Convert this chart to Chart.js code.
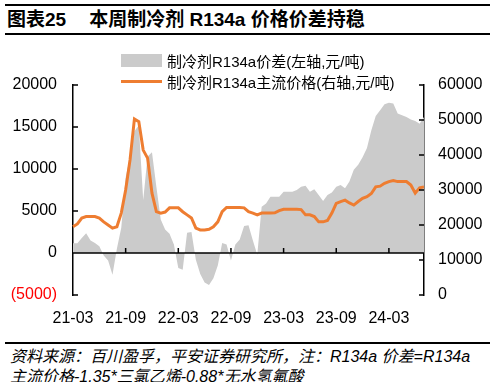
<!DOCTYPE html>
<html>
<head>
<meta charset="utf-8">
<script src="https://cdn.jsdelivr.net/npm/chart.js@4.4.1/dist/chart.umd.min.js"></script>
<style>
    body { margin: 0; background: #fff; }
    #wrap { position: relative; width: 495px; height: 382px; overflow: hidden; font-family: "Liberation Sans", Arial, "Noto Sans CJK SC", sans-serif; color: #000; }
    .rule { position: absolute; left: 5px; width: 485px; background: #000; }
    #title { position: absolute; left: 7px; top: 8px; font-size: 19px; line-height: 24px; font-weight: bold; white-space: nowrap; }
    #title .num { margin-right: 23px; }
    #legend { position: absolute; left: 121px; top: 50px; font-size: 15px; white-space: nowrap; }
    .item { display: flex; align-items: center; height: 21px; }
    .swatch { width: 41px; margin-right: 5px; }
    #note { position: absolute; left: 10px; top: 347px; font-size: 16px; font-style: italic; line-height: 20px; white-space: nowrap; }
    #chartBox { position: absolute; left: 0; top: 40px; width: 495px; height: 300px; }
</style>
</head>
<body>
<div id="wrap">
    <div class="rule" style="top:4px;height:1.5px"></div>
    <div id="title"><span class="num">图表25</span>本周制冷剂 R134a 价格价差持稳</div>
    <div class="rule" style="top:33px;height:2px"></div>
    <div id="chartBox"><canvas id="chartR134a"></canvas></div>
    <div id="legend"></div>
    <div class="rule" style="top:342px;height:1.5px"></div>
    <div id="note">资料来源：百川盈孚，平安证券研究所，注：R134a 价差=R134a<br>主流价格-1.35*三氯乙烯-0.88*无水氢氟酸</div>
</div>
<script>
// 半月一个点, 21-03 到 24-07
const periods = [];
for (let k = 0; k <= 80; k++) {
    let m = 2 + Math.floor(k / 2);        // 0 = 2021-01
    let yy = 21 + Math.floor(m / 12);
    let mm = (m % 12) + 1;
    periods.push(yy + '-' + String(mm).padStart(2, '0') + (k % 2 ? '下' : '上'));
}
const tickLabels = ['21-03', '21-09', '22-03', '22-09', '23-03', '23-09', '24-03'];

// 价差 (左轴, 元/吨)
const spread = [
    1150, 1150, 1800, 2350, 1500, 1200, 800, -300, -900, -2600,
    500, 3000, 9000, 11500, 14500, 15200, 6300, 11500, 12000, 7900,
    4000, 2800, 2300, 1000, -1800, -2000, 2400, 2500, -800, -2500,
    -3500, -3800, -3000, -1500, 1200, 1000, -900, 1000, 1600, 3200,
    3300, 1500, -200, 5500, 5900, 6700, 6700, 6700, 7300, 7300,
    7300, 7500, 7900, 8000, 7300, 7600, 6900, 6200, 6900, 7200,
    7900, 8100, 7700, 8500, 9900, 10500, 11400, 12500, 14600, 16300,
    17000, 17700, 17900, 17800, 16600, 16400, 16200, 15900, 15700, 15400,
    16200
];

// 主流价格 (右轴, 元/吨)
const price = [
    19500, 20300, 22000, 22400, 22400, 22400, 22000, 20900, 20000, 19100,
    19500, 23400, 30000, 38600, 50300, 49500, 41400, 39100, 29100, 23800,
    23400, 23700, 24900, 24900, 24900, 23800, 22900, 22000, 19100, 18600,
    18600, 18800, 19500, 20900, 23800, 25000, 25000, 25000, 25000, 24900,
    23800, 23400, 22900, 23400, 23400, 23400, 23500, 24100, 24500, 24500,
    24500, 24500, 24400, 22900, 22900, 22400, 20900, 20900, 21300, 23400,
    26200, 26700, 27100, 26300, 25700, 26700, 27600, 28100, 29000, 30900,
    31100, 31900, 32400, 32700, 32400, 32400, 32400, 31400, 29100, 30600,
    30900
];

const seriesNames = ['制冷剂R134a价差(左轴,元/吨)', '制冷剂R134a主流价格(右轴,元/吨)'];
const FONT = '"Liberation Sans", Arial, "Noto Sans CJK SC", sans-serif';

// 零轴线, 刻度朝里
const axisMarks = {
    id: 'axisMarks',
    afterDraw(chart) {
        const { ctx, chartArea, scales } = chart;
        const y0 = scales.y.getPixelForValue(0);
        ctx.save();
        ctx.strokeStyle = '#000';
        ctx.lineWidth = 1.5;
        ctx.beginPath();
        ctx.moveTo(chartArea.left, y0);
        ctx.lineTo(chartArea.right, y0);
        scales.y.ticks.forEach(t => {
            const py = scales.y.getPixelForValue(t.value);
            ctx.moveTo(chartArea.left, py);
            ctx.lineTo(chartArea.left + 5, py);
        });
        scales.y1.ticks.forEach(t => {
            const py = scales.y1.getPixelForValue(t.value);
            ctx.moveTo(chartArea.right, py);
            ctx.lineTo(chartArea.right - 5, py);
        });
        periods.forEach((p, i) => {
            if (i > 0 && i % 12 === 0) {
                const px = scales.x.getPixelForValue(i);
                ctx.moveTo(px, y0);
                ctx.lineTo(px, y0 - 5);
            }
        });
        ctx.stroke();
        ctx.restore();
    }
};

const ctx = document.getElementById('chartR134a').getContext('2d');
const chart = new Chart(ctx, {
    type: 'line',
    data: {
        labels: periods,
        datasets: [{
            label: seriesNames[0],
            data: spread,
            yAxisID: 'y',
            fill: 'origin',
            backgroundColor: '#cbcbcb',
            borderColor: 'rgba(0,0,0,0)',
            borderWidth: 0,
            pointRadius: 0,
            tension: 0,
            order: 2
        }, {
            label: seriesNames[1],
            data: price,
            yAxisID: 'y1',
            fill: false,
            borderColor: '#ee7d31',
            backgroundColor: '#ee7d31',
            borderWidth: 3,
            pointRadius: 0,
            tension: 0,
            order: 1
        }]
    },
    options: {
        responsive: true,
        maintainAspectRatio: false,
        animation: false,
        layout: { padding: { top: 45, left: 0, right: 0, bottom: 0 } },
        plugins: {
            legend: { display: false },
            tooltip: { enabled: false }
        },
        scales: {
            x: {
                grid: { display: false },
                border: { display: false },
                ticks: {
                    autoSkip: false,
                    maxRotation: 0,
                    padding: 6,
                    color: '#000',
                    font: { family: FONT, size: 16 },
                    callback: (val, i) => (i % 12 === 0 ? tickLabels[i / 12] : null)
                },
                afterFit: s => { s.height = 45; }
            },
            y: {
                position: 'left',
                min: -5000,
                max: 20000,
                ticks: {
                    stepSize: 5000,
                    padding: 16,
                    color: c => (c.tick && c.tick.value < 0 ? '#ff0000' : '#000'),
                    font: { family: FONT, size: 16 },
                    callback: v => (v < 0 ? '(' + Math.abs(v) + ')' : String(v))
                },
                grid: { drawOnChartArea: false, drawTicks: false },
                border: { display: true, color: '#000', width: 1.5 },
                afterFit: s => { s.width = 73; }
            },
            y1: {
                position: 'right',
                min: 0,
                max: 60000,
                ticks: {
                    stepSize: 10000,
                    padding: 14,
                    color: '#000',
                    font: { family: FONT, size: 16 },
                    callback: v => String(v)
                },
                grid: { drawOnChartArea: false, drawTicks: false },
                border: { display: true, color: '#000', width: 1.5 },
                afterFit: s => { s.width = 71; }
            }
        }
    },
    plugins: [axisMarks]
});

// 图例
const legendBox = document.getElementById('legend');
chart.data.datasets.forEach(function(ds, i) {
    let row = document.createElement('div');
    row.className = 'item';
    let sw = document.createElement('span');
    sw.className = 'swatch';
    sw.style.background = i === 0 ? ds.backgroundColor : ds.borderColor;
    sw.style.height = i === 0 ? '13px' : '3px';
    row.appendChild(sw);
    row.appendChild(document.createTextNode(ds.label));
    legendBox.appendChild(row);
});
</script>
</body>
</html>
